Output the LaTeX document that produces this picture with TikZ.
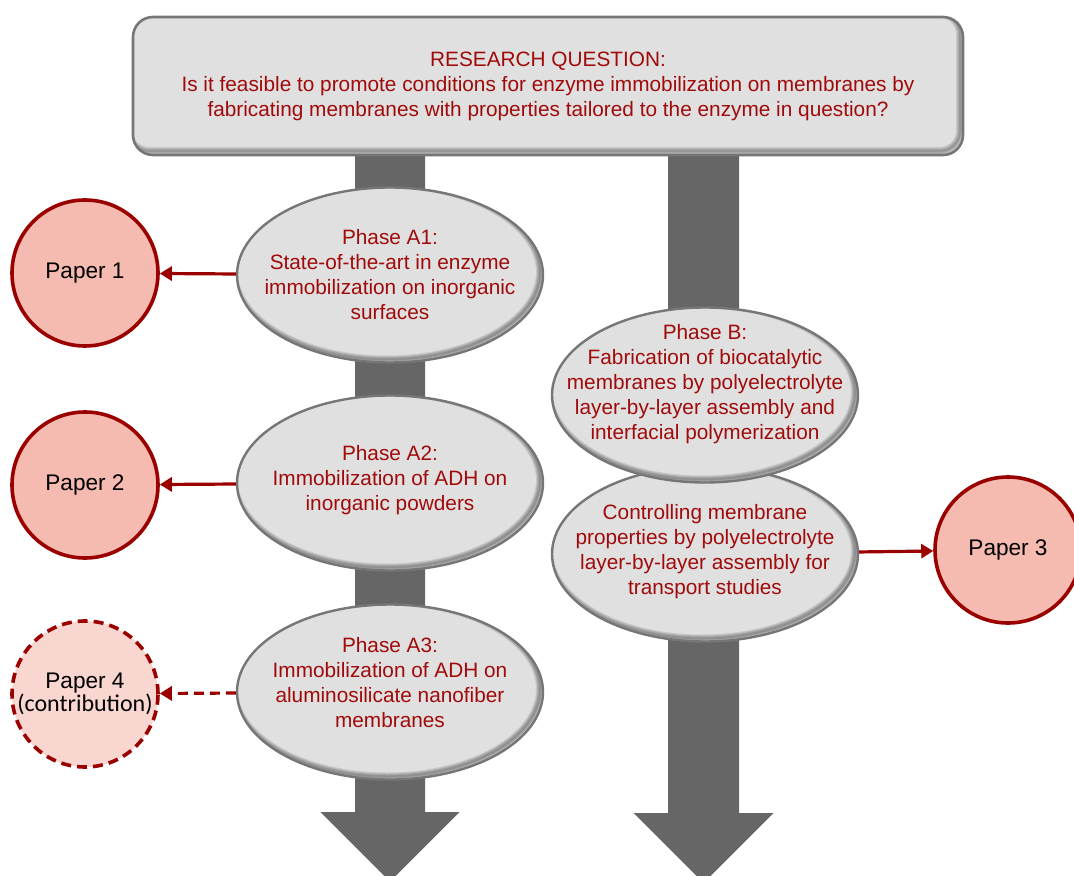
\documentclass[tikz,border=0pt]{standalone}
\usepackage{fontspec}
\setmainfont{Liberation Sans}
\newfontfamily\smallpaperfont{Carlito}
\usetikzlibrary{arrows.meta,shapes.geometric}
\definecolor{qred}{RGB}{160,10,10}
\definecolor{pred}{RGB}{155,0,0}
\definecolor{pfill}{RGB}{245,187,176}
\definecolor{plight}{RGB}{249,214,208}
\definecolor{boxfill}{RGB}{224,224,224}
\definecolor{boxline}{RGB}{118,118,118}
\definecolor{bargray}{RGB}{102,102,102}
\tikzset{
  question/.style={draw=boxline, fill=boxfill, line width=1.3pt, rounded corners=10pt,
    minimum width=415pt, minimum height=69pt, align=center, text=qred,
    font=\fontsize{10.4}{12.5}\selectfont,
    path picture={\foreach \w in {1,2,3,4}
      \draw[black, opacity=.09, line width=\w pt, rounded corners=10pt]
        ([shift={(-2pt,2pt)}]path picture bounding box.south west) rectangle
        ([shift={(-1.5pt,1.5pt)}]path picture bounding box.north east);}},
  phase/.style={ellipse, draw=boxline, fill=boxfill, line width=1.2pt,
    minimum width=153pt, minimum height=87.5pt, inner sep=0pt,
    path picture={\foreach \w in {1,2,3,4}
      \draw[black, opacity=.1, line width=\w pt]
        ([shift={(-1.5pt,1.5pt)}]path picture bounding box.center)
        ellipse [x radius=76.5pt, y radius=43.75pt];}},
  phasetext/.style={align=center, text=qred, font=\fontsize{10.4}{12.5}\selectfont},
  paper/.style={circle, draw=pred, fill=pfill, line width=1.8pt, minimum size=73pt,
    inner sep=0pt, align=center, font=\fontsize{11.3}{12.5}\selectfont},
  link/.style={draw=pred, line width=1.6pt, -{Triangle[length=6pt,width=7pt]}}
}
\begin{document}
\begin{tikzpicture}[x=0.5pt,y=-0.5pt]
\useasboundingbox (0,0) rectangle (1074,876);
\clip (0,0) rectangle (1074,876);
\fill[bargray] (355,150)--(425,150)--(425,812)--(459.5,812)--(390,881.5)--(320.5,812)--(355,812)--cycle;
\fill[bargray] (668,150)--(739,150)--(739,813)--(773.5,813)--(703.5,883)--(633.5,813)--(668,813)--cycle;
\node[question] (rq) at (548,86) {RESEARCH QUESTION:\\Is it feasible to promote conditions for enzyme immobilization on membranes by\\fabricating membranes with properties tailored to the enzyme in question?};

\node[phase] (a1) at (390,275) {};
\node[phase] (a2) at (390,483) {};
\node[phase] (a3) at (390,692) {};
\node[phase] (c) at (705,554) {};
\node[phase] (b) at (705,395) {};
\node[phasetext] (a1t) at (390,275) {Phase A1:\\State-of-the-art in enzyme\\immobilization on inorganic\\surfaces};
\node[phasetext] (a2t) at (390,480) {Phase A2:\\Immobilization of ADH on\\inorganic powders};
\node[phasetext] (a3t) at (390,683) {Phase A3:\\Immobilization of ADH on\\aluminosilicate nanofiber\\membranes};
\node[phasetext] (bt) at (705,384) {Phase B:\\Fabrication of biocatalytic\\membranes by polyelectrolyte\\layer-by-layer assembly and\\interfacial polymerization};
\node[phasetext] (ct) at (705,552) {Controlling membrane\\properties by polyelectrolyte\\layer-by-layer assembly for\\transport studies};

\node[paper] (p1) at (85,273) {Paper 1};
\node[paper] (p2) at (85,485) {Paper 2};
\node[paper, fill=plight, dash pattern=on 5pt off 3pt] (p4) at (85,694) {Paper 4\\[-1pt]{\smallpaperfont\fontsize{12}{12.5}\selectfont (contribution)}};
\node[paper] (p3) at (1008,550) {Paper 3};

\draw[link] (a1) -- (p1);
\draw[link] (a2) -- (p2);
\draw[link, dash pattern=on 5pt off 3pt] (a3) -- (p4);
\draw[link] (c) -- (p3);
\end{tikzpicture}
\end{document}
